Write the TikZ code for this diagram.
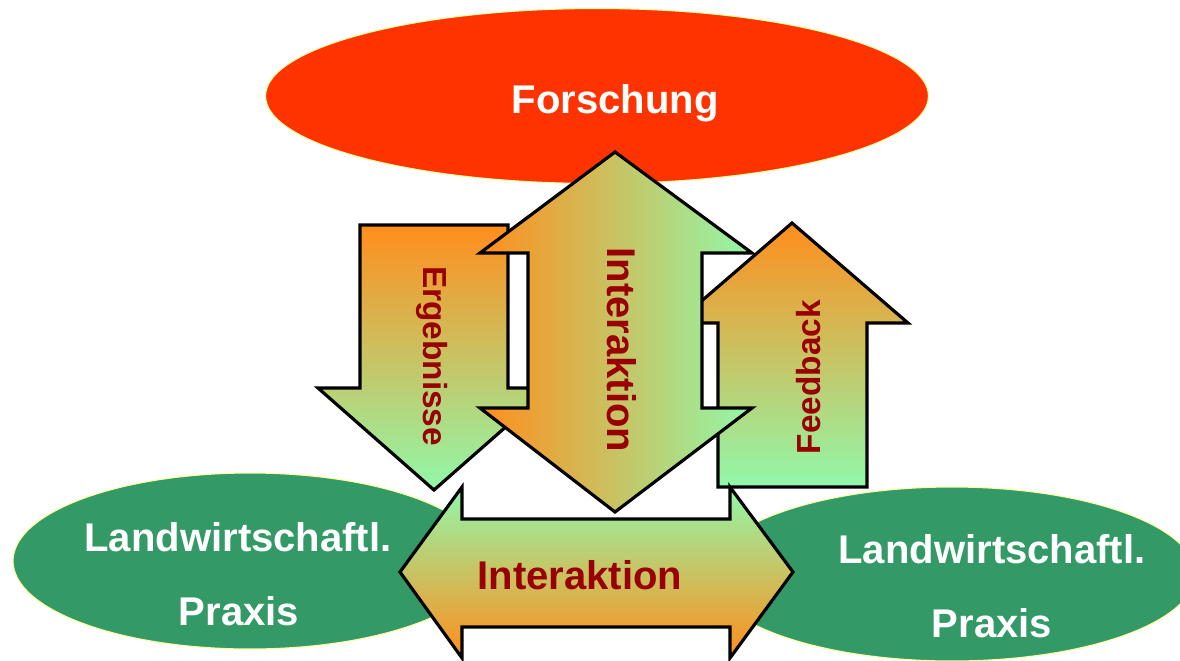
\documentclass[tikz,border=0pt]{standalone}
\usepackage{fontspec}
\setmainfont{Liberation Sans}
\usepackage{tikz}
\usetikzlibrary{shapes.geometric}

\definecolor{forschrot}{RGB}{255,51,0}
\definecolor{praxisgruen}{RGB}{51,153,102}
\definecolor{pfeilorange}{RGB}{255,142,28}
\definecolor{pfeilgruen}{RGB}{145,248,170}
\definecolor{textrot}{RGB}{153,0,0}
\definecolor{rand}{RGB}{255,255,160}

\begin{document}
\begin{tikzpicture}[x=0.02cm,y=-0.02cm,
	blob/.style={ellipse,draw=rand,line width=0.6pt,inner sep=0pt},
	pfeil/.style={draw=black,line width=1.8pt,line join=miter},
	weiss/.style={text=white,anchor=base,font=\fontsize{22.8}{24}\selectfont\bfseries},
	gross/.style={text=textrot,anchor=base,font=\fontsize{22.8}{24}\selectfont\bfseries},
	klein/.style={text=textrot,anchor=base,font=\fontsize{19}{21}\selectfont\bfseries}]
	 \useasboundingbox (0,0) rectangle (1180,660);
	 % ellipses
	 \node[blob,fill=forschrot,minimum width=13.26cm,minimum height=3.5cm] (forschung) at (597,96) {};
	 \node[blob,fill=praxisgruen,minimum width=9.48cm,minimum height=3.52cm] (praxis1) at (250,561) {};
	 \node[blob,fill=praxisgruen,minimum width=9.72cm,minimum height=3.48cm] (praxis2) at (952,574) {};
	 \node[weiss] (forschtext) at (615,113) {Forschung};
	 \node[weiss] (land1) at (238,551) {Landwirtschaftl.};
	 \node[weiss] (prax1) at (239,625) {Praxis};
	 \node[weiss] (land2) at (992,563) {Landwirtschaftl.};
	 \node[weiss] (prax2) at (992,637) {Praxis};
	 % arrows
	 \draw[pfeil,top color=pfeilorange,bottom color=pfeilgruen]
	   (360,225) -- (508,225) -- (508,388) -- (550,388) -- (434,490) -- (318,388) -- (360,388) -- cycle;
	 \draw[pfeil,top color=pfeilorange,bottom color=pfeilgruen]
	   (718,487) -- (718,323) -- (676,323) -- (792,223) -- (908,323) -- (867,323) -- (867,487) -- cycle;
	 \draw[pfeil,left color=pfeilorange,right color=pfeilgruen]
	   (528,253) -- (480,253) -- (615,152) -- (752,253) -- (702,253) -- (702,408)
	   -- (752,408) -- (615,512) -- (480,408) -- (528,408) -- cycle;
	 \draw[pfeil,top color=pfeilgruen,bottom color=pfeilorange]
	   (462,519) -- (462,487) -- (400,572) -- (462,658) -- (462,627) -- (730,627)
	   -- (730,658) -- (793,572) -- (730,487) -- (730,519) -- cycle;
	 \node[klein,rotate=-90] (ergebnisse) at (423,356) {Ergebnisse};
	 \node[gross,rotate=-90] (interaktion1) at (607,350) {Interaktion};
	 \node[klein,rotate=90] (feedback) at (820,377) {Feedback};
	 \node[gross] (interaktion2) at (580,589) {Interaktion};
\end{tikzpicture}
\end{document}
